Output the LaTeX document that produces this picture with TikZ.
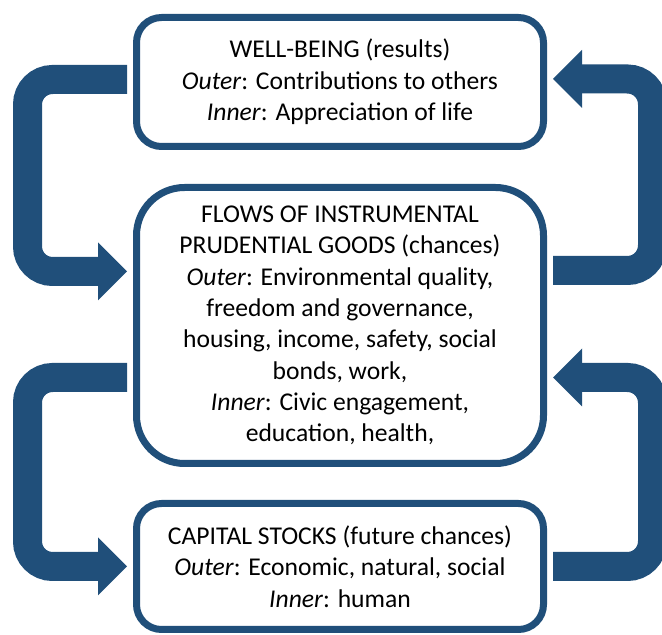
\documentclass[tikz,border=0pt]{standalone}
\usepackage{fontspec}
\setmainfont{Carlito}
\usetikzlibrary{arrows.meta}
\definecolor{navy}{RGB}{32,79,122}
\begin{document}
\begin{tikzpicture}[x=1pt,y=1pt,
  box/.style={draw=navy, fill=white, line width=7pt, align=center,
    minimum width=407pt, inner sep=0pt,
    font=\fontsize{25.6}{31.3}\selectfont},
  flow/.style={draw=navy, line width=29pt, rounded corners=25pt,
    -{Triangle[length=29pt,width=58pt,line width=0pt]}}]
\useasboundingbox (0,0) rectangle (662,635);
\node[box, rounded corners=25pt, minimum height=129pt] (top) at (340,553)
  {WELL-BEING (results)\\ \textit{Outer}: Contributions to others\\ \textit{Inner}: Appreciation of life};
\node[box, rounded corners=48pt, minimum height=276pt] (mid) at (340,309.5)
  {FLOWS OF INSTRUMENTAL\\ PRUDENTIAL GOODS (chances)\\ \textit{Outer}: Environmental quality,\\ freedom and governance,\\ housing, income, safety, social\\ bonds, work,\\ \textit{Inner}: Civic engagement,\\ education, health,};
\node[box, rounded corners=25pt, minimum height=126pt] (bot) at (340,68.5)
  {CAPITAL STOCKS (future chances)\\ \textit{Outer}: Economic, natural, social\\ \textit{Inner}: human};
\draw[flow] ([xshift=-6pt,yshift=2.5pt]top.west) -- ++(-99.5,0) |- ([xshift=-6pt,yshift=54pt]mid.west);
\draw[flow] ([xshift=6pt,yshift=55pt]mid.east) -- ++(99.5,0) |- ([xshift=6pt,yshift=3pt]top.east);
\draw[flow] ([xshift=-6pt,yshift=-52pt]mid.west) -- ++(-99.5,0) |- ([xshift=-6pt]bot.west);
\draw[flow] ([xshift=6pt]bot.east) -- ++(99.5,0) |- ([xshift=6pt,yshift=-52pt]mid.east);
\end{tikzpicture}
\end{document}
